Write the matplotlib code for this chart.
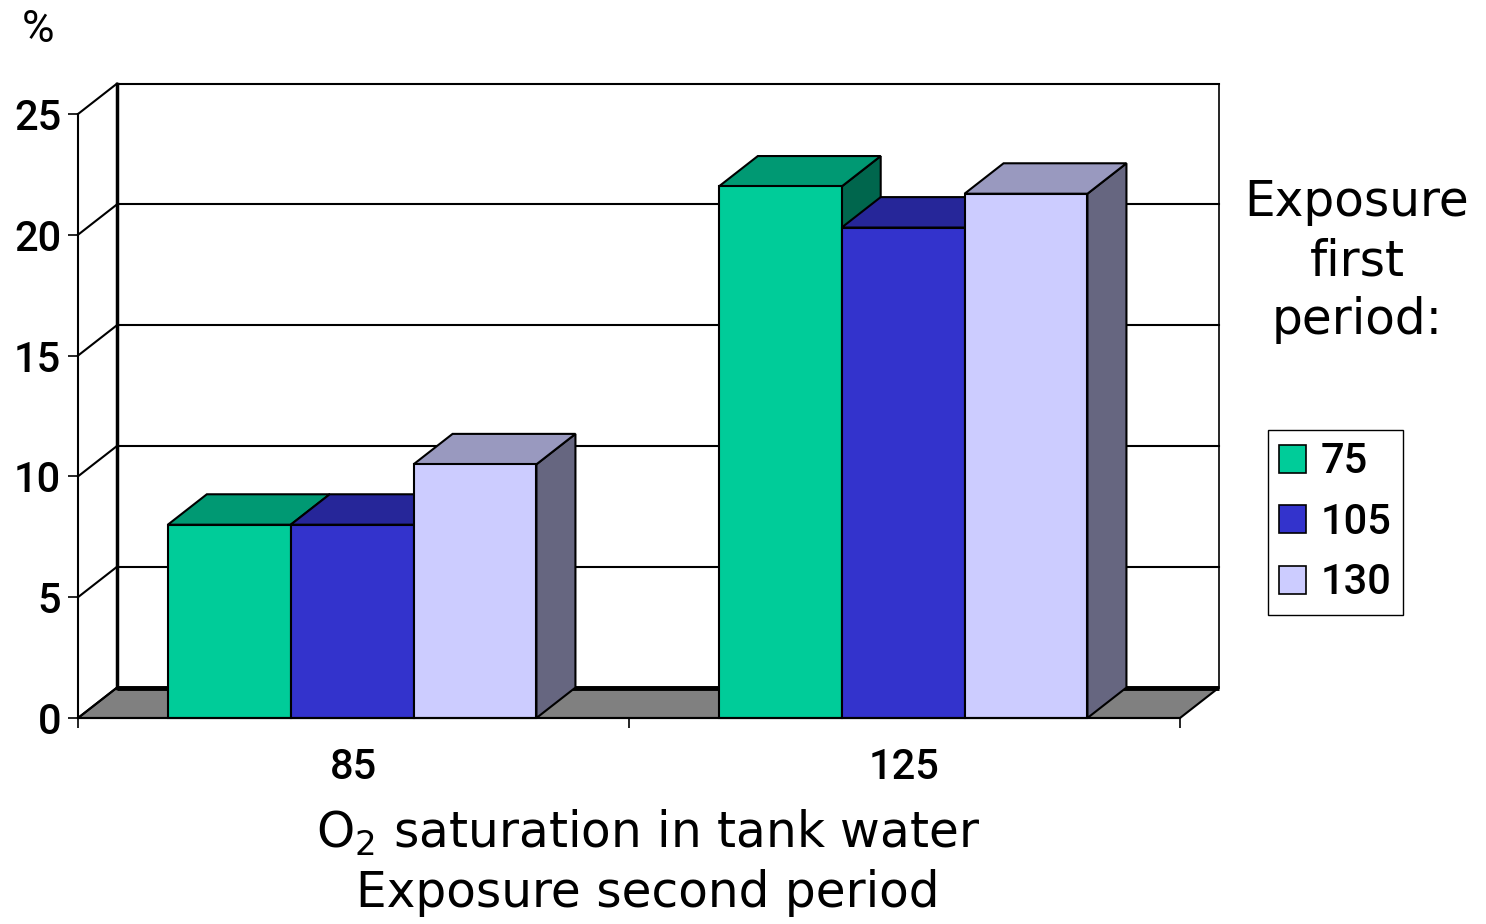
import matplotlib.pyplot as plt
from matplotlib.patches import Polygon, Patch

# O2 saturation, second period (categories) and first-period series
categorias = ["85", "125"]
series = ["75", "105", "130"]
valores = {
    "75": [8.0, 22.0],
    "105": [8.0, 20.3],
    "130": [10.5, 21.7],
}
yticks = [0, 5, 10, 15, 20, 25]

colores = {"75": "#00CC99", "105": "#3333CC", "130": "#CCCCFF"}
num_font = {"family": "Roboto", "weight": 500}


def sombra(hexcol, f):
    r, g, b = (int(hexcol[i:i + 2], 16) / 255 for i in (1, 3, 5))
    return (r * f, g * f, b * f)


# 3D look: depth offset in data units
DX, DY = 0.0708, 1.26
gap, ancho = 0.163, 0.223

fig = plt.figure(figsize=(14.86, 9.24), dpi=100)
ax = fig.add_axes([78 / 1486, (924 - 718) / 924, 1102 / 1486, 604 / 924])
ax.set_xlim(0, len(categorias))
ax.set_ylim(0, 25)

for s in ["top", "right"]:
    ax.spines[s].set_visible(False)
ax.spines["left"].set_linewidth(1.5)
ax.spines["bottom"].set_linewidth(1.5)
ax.spines["left"].set_zorder(5)
ax.spines["bottom"].set_zorder(5)

# floor
n = len(categorias)
ax.add_patch(Polygon([(0, 0), (n, 0), (n + DX, DY), (DX, DY)], closed=True,
                     facecolor="#808080", edgecolor="black", lw=1.5,
                     clip_on=False, zorder=1))
ax.plot([DX, n + DX], [DY, DY], color="black", lw=3.5, clip_on=False, zorder=2,
        solid_capstyle="butt")

# back wall and side lines
for t in yticks[1:]:
    ax.plot([DX, n + DX], [t + DY, t + DY], color="black", lw=1.5,
            clip_on=False, zorder=1)
for t in yticks:
    ax.plot([0, DX], [t, t + DY], color="black", lw=1.5, clip_on=False, zorder=1)
ax.plot([DX, DX], [DY, 25 + DY], color="black", lw=2.5, clip_on=False, zorder=2)
ax.plot([n + DX, n + DX], [DY, 25 + DY], color="black", lw=1.2,
        clip_on=False, zorder=1)

# bars, drawn left to right so later fronts hide earlier sides
for i in range(n):
    for j, s in enumerate(series):
        v = valores[s][i]
        x0 = i + gap + j * ancho
        x1 = x0 + ancho
        c = colores[s]
        kw = dict(closed=True, edgecolor="black", lw=1.5, clip_on=False, zorder=3)
        ax.add_patch(Polygon([(x1, 0), (x1 + DX, DY), (x1 + DX, v + DY), (x1, v)],
                             facecolor=sombra(c, 0.5), **kw))
        ax.add_patch(Polygon([(x0, v), (x1, v), (x1 + DX, v + DY), (x0 + DX, v + DY)],
                             facecolor=sombra(c, 0.75), **kw))
        ax.add_patch(Polygon([(x0, 0), (x1, 0), (x1, v), (x0, v)],
                             facecolor=c, **kw))

# axes ticks and labels
ax.set_yticks(yticks)
ax.set_yticklabels([str(t) for t in yticks], fontsize=30, **num_font)
ax.tick_params(axis="y", direction="out", length=7, width=1.2, pad=5)
ax.set_xticks(range(n + 1))
ax.set_xticklabels([""] * (n + 1))
ax.tick_params(axis="x", which="major", direction="out", length=7, width=1.2)
ax.set_xticks([i + 0.5 for i in range(n)], minor=True)
ax.set_xticklabels(categorias, minor=True, fontsize=30, **num_font)
ax.tick_params(axis="x", which="minor", length=0, pad=21)

fig.text(38 / 1486, 1 - 30 / 924, "%", ha="center", va="center",
         fontsize=32, family="Roboto")
fig.text(648 / 1486, 1 - 833 / 924, "O$_2$ saturation in tank water",
         ha="center", va="center", fontsize=35)
fig.text(648 / 1486, 1 - 893 / 924, "Exposure second period",
         ha="center", va="center", fontsize=35)

fig.text(1357 / 1486, 1 - 261 / 924, "Exposure\nfirst\nperiod:",
         ha="center", va="center", fontsize=35, linespacing=1.3)

handles = [Patch(facecolor=colores[s], edgecolor="black", lw=1.2) for s in series]
fig.legend(handles, series, loc="upper left",
           bbox_to_anchor=(1268 / 1486, 1 - 430 / 924), borderaxespad=0,
           frameon=True, fancybox=False, edgecolor="black", framealpha=1,
           prop={"family": "Roboto", "weight": 500, "size": 30},
           handlelength=0.65, handleheight=0.65, handletextpad=0.35,
           labelspacing=0.47, borderpad=0.27)

fig.savefig("out.png", dpi=100)
